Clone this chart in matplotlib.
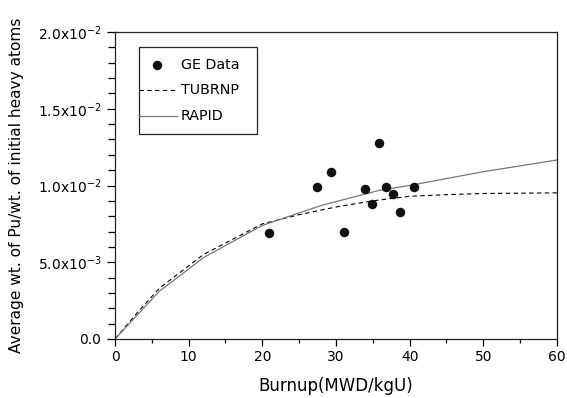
import matplotlib
matplotlib.use('Agg')
import matplotlib.pyplot as plt
from matplotlib.ticker import MultipleLocator, FuncFormatter
from matplotlib.patches import Rectangle
from matplotlib.lines import Line2D
import numpy as np

plt.rcParams['font.family'] = ['DejaVu Sans']
plt.rcParams['mathtext.fontset'] = 'dejavusans'

# GE measured data
ge_burnup = [20.9, 27.4, 29.3, 31.1, 33.9, 34.9, 35.8, 36.8, 37.8, 38.7, 40.6]
ge_pu = [0.00688, 0.00991, 0.01089, 0.00698, 0.00980, 0.00879, 0.01278,
         0.00989, 0.00944, 0.00829, 0.00987]

# TUBRNP (dashed)
tub_burnup = [0, 3, 6, 12, 20, 25, 30, 35, 40, 45, 50, 60]
tub_pu = [0.0, 0.0017, 0.0033, 0.0055, 0.0075, 0.0081, 0.0086, 0.0090,
          0.0093, 0.0094, 0.00948, 0.00952]

# RAPID (solid)
rap_burnup = [0, 6, 12, 20, 28, 36, 40, 50, 60]
rap_pu = [0.0, 0.0031, 0.0053, 0.0074, 0.0087, 0.0097, 0.0100, 0.0109, 0.01166]

fig = plt.figure(figsize=(5.67, 3.98), dpi=100)
ax = fig.add_axes([115/567, 59/398, 442/567, 307/398])

ax.plot(tub_burnup, tub_pu, color='black', lw=0.8, dashes=(4, 3))
ax.plot(rap_burnup, rap_pu, color='#777777', lw=0.9)
ax.scatter(ge_burnup, ge_pu, s=34, color='#111111', zorder=3)

ax.set_xlim(0, 60)
ax.set_ylim(0, 0.02)
ax.xaxis.set_major_locator(MultipleLocator(10))
ax.xaxis.set_minor_locator(MultipleLocator(5))
ax.yaxis.set_major_locator(MultipleLocator(0.005))
ax.yaxis.set_minor_locator(MultipleLocator(0.001))


def yfmt(v, pos):
    if abs(v) < 1e-12:
        return '0.0'
    e = int(np.floor(np.log10(abs(v))))
    m = v / 10**e
    return f'{m:.1f}x10$^{{{e}}}$'


ax.yaxis.set_major_formatter(FuncFormatter(yfmt))
ax.tick_params(which='major', direction='out', length=5, width=0.9,
               labelsize=10, pad=3)
ax.tick_params(which='minor', direction='out', length=3, width=0.9)
ax.tick_params(axis='y', which='major', length=6, pad=4)
ax.tick_params(axis='y', which='minor', length=5)
ax.tick_params(top=False, right=False)
for s in ax.spines.values():
    s.set_linewidth(0.9)
    s.set_color('#222222')

ax.set_xlabel('Burnup(MWD/kgU)', fontsize=12)
ax.xaxis.set_label_coords(0.5, -0.125)
ax.set_ylabel('Average wt. of Pu/wt. of initial heavy atoms', fontsize=11.1)
ax.yaxis.set_label_coords(-0.205, 0.5)

# legend box drawn in axes fraction
def px(x, y):
    return ((x - 115) / 442, (339 - y) / 307)

x0, y0 = px(139, 134)
x1, y1 = px(257, 47)
ax.add_patch(Rectangle((x0, y0), x1 - x0, y1 - y0, transform=ax.transAxes,
                       fill=False, lw=0.9, ec='#222222', zorder=4))
rows = [65, 90, 116]
mx, my = px(157, rows[0])
ax.add_line(Line2D([mx], [my], marker='o', ms=5.8, color='#111111',
                   transform=ax.transAxes, zorder=5))
la, lb = px(139, 0)[0], px(177, 0)[0]
_, ry = px(0, rows[1])
ax.add_line(Line2D([la, lb], [ry, ry], color='black', lw=0.8, dashes=(4, 3),
                   transform=ax.transAxes, zorder=5))
_, ry2 = px(0, rows[2])
ax.add_line(Line2D([la, lb], [ry2, ry2], color='#777777', lw=0.9,
                   transform=ax.transAxes, zorder=5))
tx = px(181, 0)[0]
for lbl, r in zip(['GE Data', 'TUBRNP', 'RAPID'], rows):
    ax.text(tx, px(0, r)[1], lbl, transform=ax.transAxes, fontsize=10.3,
            va='center', ha='left', zorder=5)

fig.savefig('out.png', dpi=100)
